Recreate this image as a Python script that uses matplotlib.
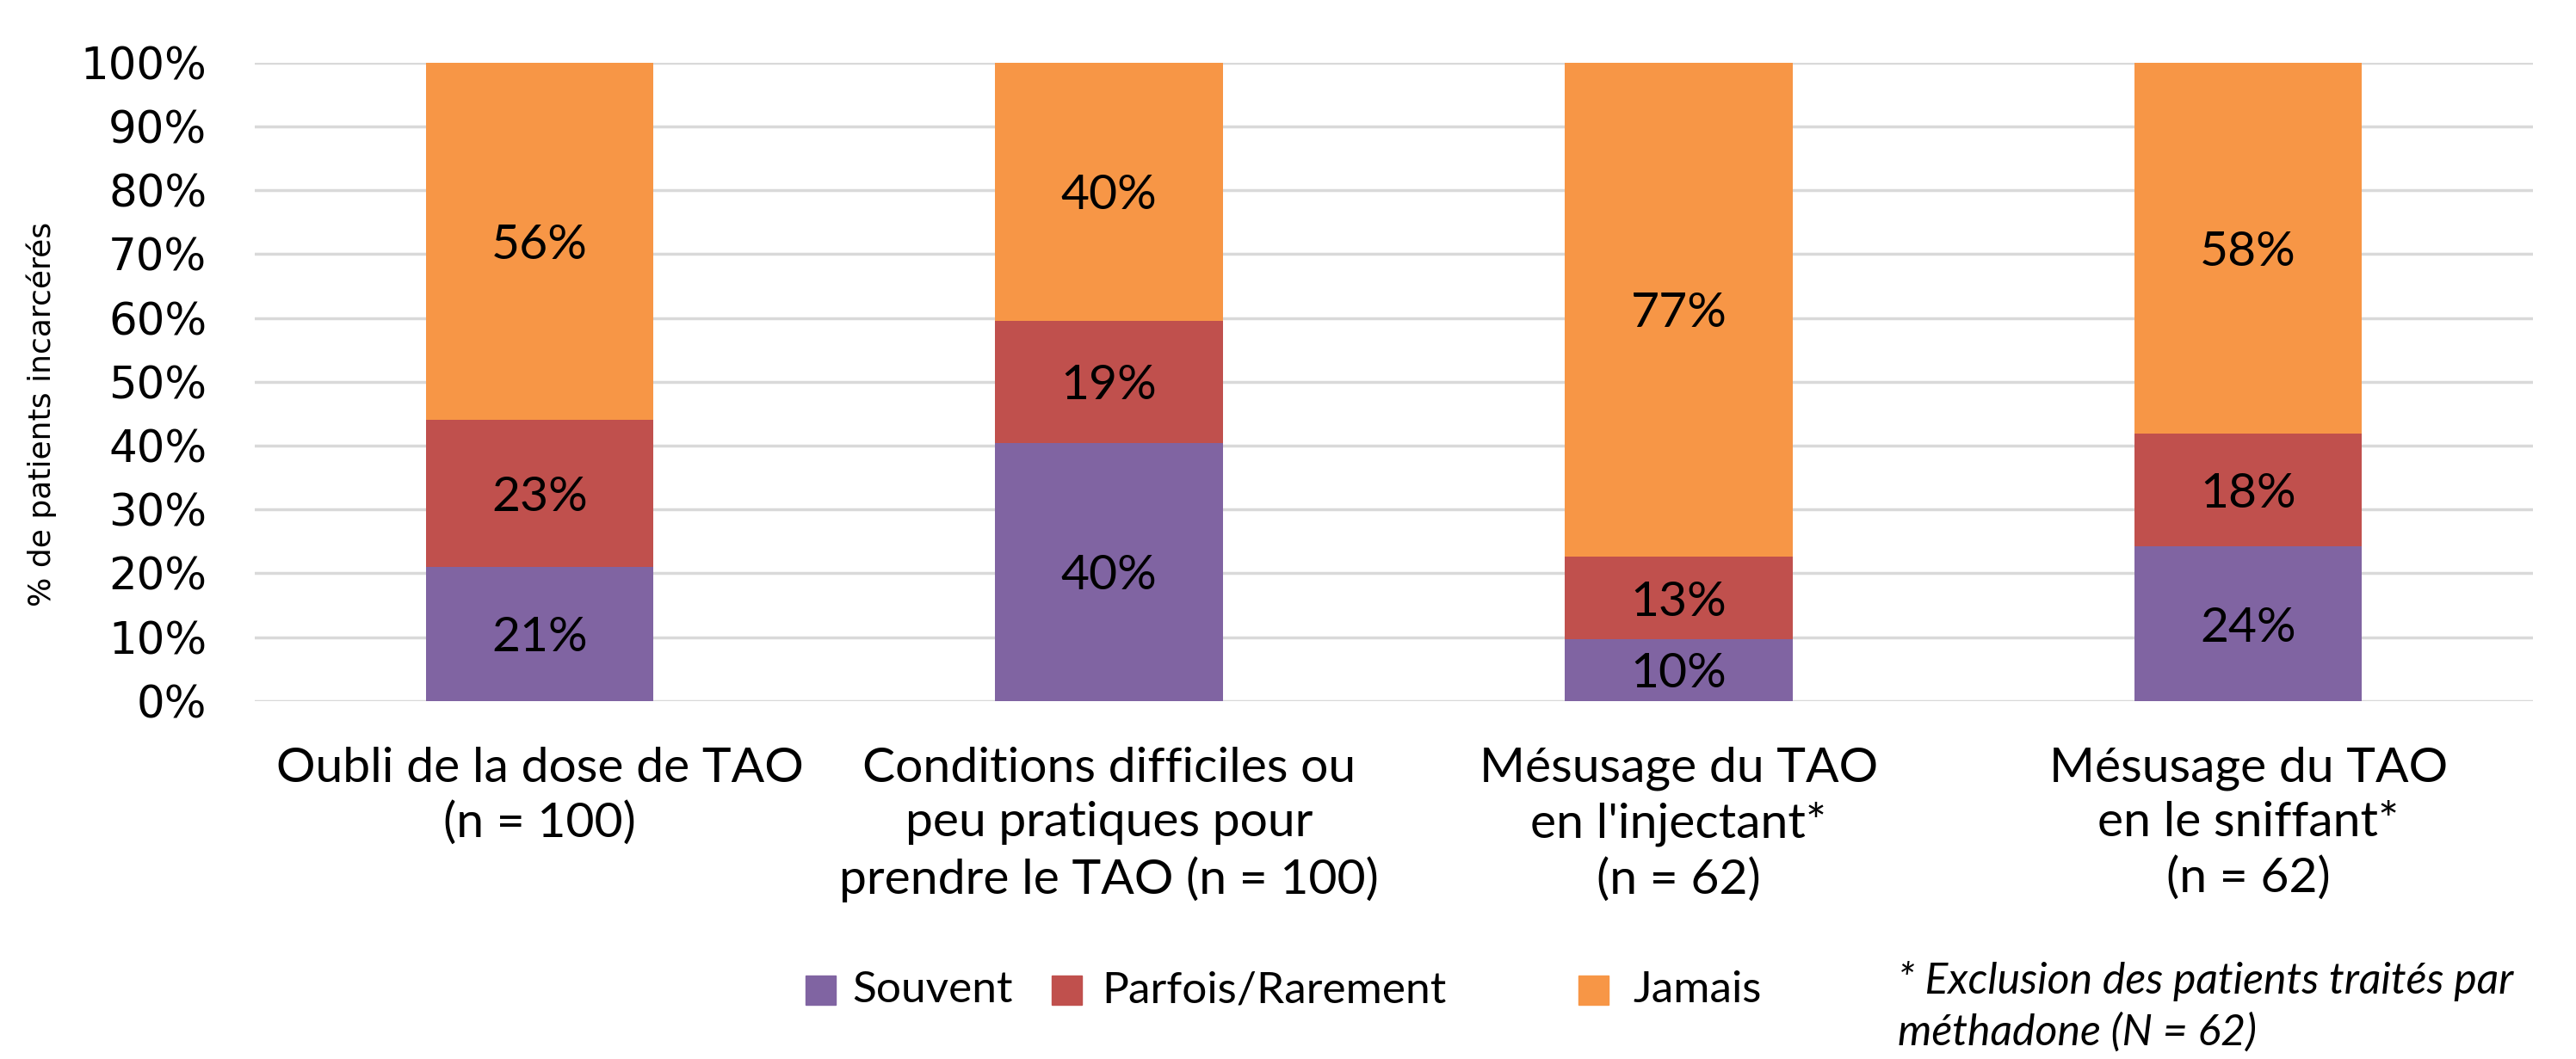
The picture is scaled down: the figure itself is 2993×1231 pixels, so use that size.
import numpy as np
import matplotlib
matplotlib.use("Agg")
import matplotlib.pyplot as plt
from matplotlib.patches import Rectangle

# data (percent of incarcerated patients)
categories = ["Oubli de la dose de TAO\n(n = 100)",
              "Conditions difficiles ou\npeu pratiques pour\nprendre le TAO (n = 100)",
              "Mésusage du TAO\nen l'injectant*\n(n = 62)",
              "Mésusage du TAO\nen le sniffant*\n(n = 62)"]
series_names = ["Souvent", "Parfois/Rarement", "Jamais"]
souvent = [21.0, 40.4, 9.7, 24.2]
parfois = [23.0, 19.2, 12.9, 17.7]
jamais = [56.0, 40.4, 77.4, 58.1]
yticks = [0, 10, 20, 30, 40, 50, 60, 70, 80, 90, 100]
footnote = "* Exclusion des patients traités par\nméthadone (N = 62)"

colors = ["#8064A2", "#C0504D", "#F79646"]
FONT = "Lato"

fig = plt.figure(figsize=(29.93, 12.31), dpi=100)
ax = fig.add_axes([0.0989, 0.338, 0.8844, 0.603])

x = np.arange(len(categories))
bottom = np.zeros(len(categories))
for vals, name, col in zip([souvent, parfois, jamais], series_names, colors):
    vals = np.array(vals)
    bars = ax.bar(x, vals, width=0.4, bottom=bottom, color=col, label=name, zorder=2)
    for b, v in zip(bars, vals):
        ax.text(b.get_x() + b.get_width() / 2, b.get_y() + v / 2, f"{v:.0f}%",
                ha="center", va="center_baseline", fontsize=41, family=FONT,
                color="black", zorder=3)
    bottom += vals

ax.set_xlim(-0.5, len(categories) - 0.5)
ax.set_ylim(0, 100)
ax.set_yticks(yticks)
ax.set_yticklabels([f"{t}%" for t in yticks], fontsize=37, family="DejaVu Sans")
ax.set_xticks(x)
ax.set_xticklabels(categories, fontsize=41, family=FONT, linespacing=1.3)
ax.tick_params(axis="x", length=0, pad=38)
ax.tick_params(axis="y", length=0, pad=40)
ax.yaxis.grid(True, color="#D9D9D9", linewidth=2.5, zorder=0)
ax.set_axisbelow(True)
for s in ax.spines.values():
    s.set_visible(False)

fig.text(0.016, 0.609, "% de patients incarcérés", rotation=90, ha="center", va="center",
         fontsize=26, family="Liberation Sans Narrow")

# legend drawn manually to keep Excel's uneven spacing
leg_x = [936, 1222, 1834]
txt_x = [990, 1280, 1897]
leg_y = 1151
W, H = 2993, 1231
for lx, tx, name, col in zip(leg_x, txt_x, series_names, colors):
    fig.add_artist(Rectangle((lx / W, 1 - (leg_y + 17) / H), 35 / W, 34 / H,
                             transform=fig.transFigure, color=col))
    fig.text(tx / W, 1 - leg_y / H, name, ha="left", va="center", fontsize=37, family=FONT)

fig.text(2205 / W, 1 - 1170 / H, footnote, ha="left", va="center", fontsize=36,
         family=FONT, style="italic", linespacing=1.35)

fig.savefig("out.png", dpi=100, facecolor="white")
